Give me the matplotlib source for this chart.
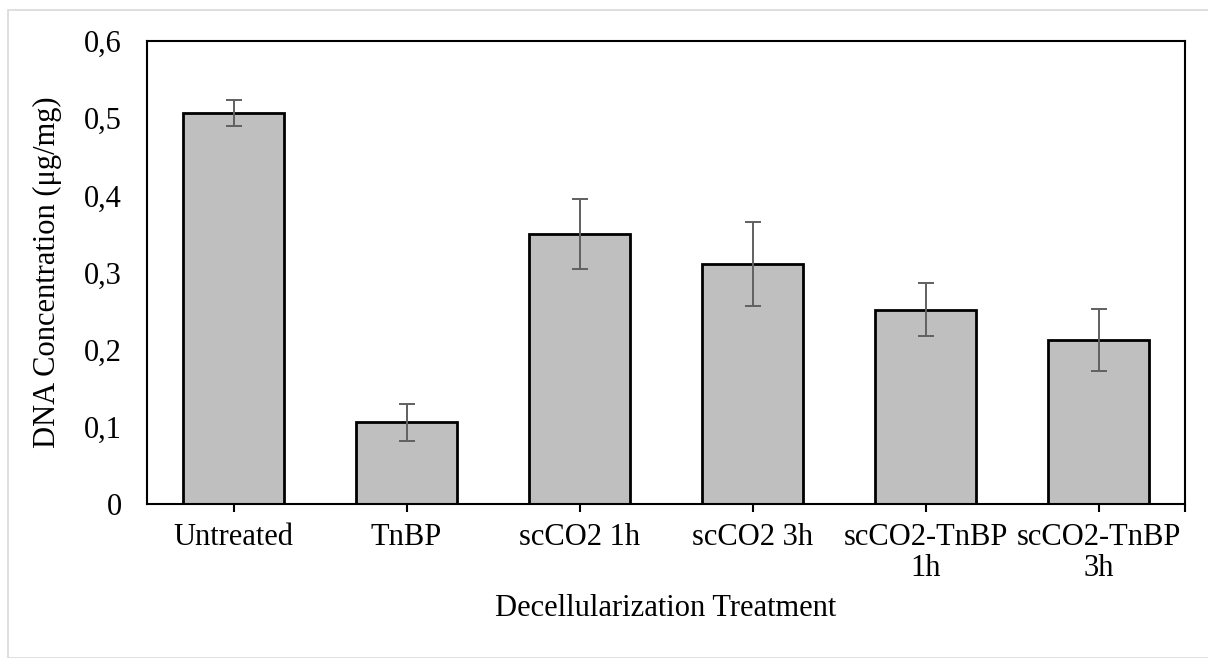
import matplotlib
matplotlib.use("Agg")
import matplotlib.pyplot as plt
from matplotlib.ticker import FuncFormatter, MultipleLocator, FixedLocator
from matplotlib.patches import Rectangle

categories = ["Untreated", "TnBP", "scCO2 1h", "scCO2 3h", "scCO2-TnBP\n1h", "scCO2-TnBP\n3h"]
dna = [0.507, 0.106, 0.350, 0.311, 0.252, 0.213]
err = [0.017, 0.024, 0.045, 0.055, 0.034, 0.040]

plt.rcParams["font.family"] = ["Liberation Serif", "DejaVu Serif"]

fig = plt.figure(figsize=(12.08, 6.58), dpi=100)
ax = fig.add_axes([147 / 1208, 1 - 504 / 658, (1185 - 147) / 1208, (504 - 41) / 658])

x = range(len(categories))
ax.bar(x, dna, width=0.58, color="#bfbfbf", edgecolor="black", linewidth=2.0, zorder=2)
ax.errorbar(x, dna, yerr=err, fmt="none", ecolor="#606060", elinewidth=1.4,
            capsize=6, capthick=1.4, zorder=3)

ax.set_xlim(-0.5, len(categories) - 0.5)
ax.set_ylim(0, 0.6)
ax.yaxis.set_major_locator(MultipleLocator(0.1))
ax.yaxis.set_major_formatter(FuncFormatter(lambda v, p: "0" if abs(v) < 1e-9 else f"{v:.1f}".replace(".", ",")))
ax.set_xticks(list(x))
ax.set_xticklabels(categories, linespacing=1.05)
# Excel leaves a tick at the right end of the category axis
ax.xaxis.set_minor_locator(FixedLocator([len(categories) - 0.5]))
ax.tick_params(axis="y", which="both", length=0, pad=18, labelsize=22)
ax.tick_params(axis="x", which="both", length=6, width=1.5, direction="out", pad=8, labelsize=22)

for s in ax.spines.values():
    s.set_linewidth(1.5)
    s.set_color("black")

ax.set_xlabel("Decellularization Treatment", fontsize=22, labelpad=8)
ax.set_ylabel("DNA Concentration (μg/mg)", fontsize=22, labelpad=16)

fig.patches.append(Rectangle((8 / 1208, 0), 1 - 8 / 1208 + 0.01, 1 - 10 / 658, transform=fig.transFigure,
                             fill=False, edgecolor="#d9d9d9", linewidth=1.2))

fig.savefig("out.png", dpi=100)
